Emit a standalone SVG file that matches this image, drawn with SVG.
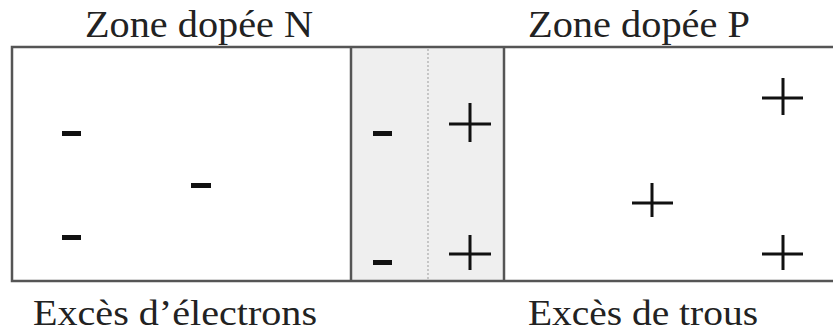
<svg xmlns="http://www.w3.org/2000/svg" width="833" height="333" viewBox="0 0 833 333">
<style>
.lbl{font-family:"Liberation Serif","Times New Roman",serif;font-size:38px;fill:#222}
.low{font-size:35px}
.edge{stroke:#555;stroke-width:2.5;fill:none}
.plus{stroke:#111;stroke-width:3;fill:none}
.minus{fill:#111}
</style>
<rect x="0" y="0" width="833" height="333" fill="#fff"/>
<g id="depletion">
<rect x="351" y="47" width="153" height="234" fill="#efefef"/>
<line x1="428" y1="49" x2="428" y2="280" stroke="#aaa" stroke-width="1.2" stroke-dasharray="2,2"/>
<rect class="minus" x="373" y="131" width="19" height="5"/>
<rect class="minus" x="373" y="260" width="19" height="5"/>
<path class="plus" d="M449 124H491M470 103V142"/>
<path class="plus" d="M449 254H491M470 235V270"/>
</g>
<g id="frame">
<path class="edge" d="M833 47H12V281H833"/>
<line class="edge" x1="351" y1="47" x2="351" y2="281"/>
<line class="edge" x1="504" y1="47" x2="504" y2="281"/>
</g>
<g id="zone-n">
<text class="lbl" x="85" y="37" textLength="228" lengthAdjust="spacingAndGlyphs">Zone dopée N</text>
<rect class="minus" x="62" y="131" width="19" height="5"/>
<rect class="minus" x="191" y="183" width="20" height="5"/>
<rect class="minus" x="62" y="235" width="19" height="5"/>
<text class="lbl low" x="33" y="325" textLength="284" lengthAdjust="spacingAndGlyphs">Excès d’électrons</text>
</g>
<g id="zone-p">
<text class="lbl" x="528" y="37" textLength="222" lengthAdjust="spacingAndGlyphs">Zone dopée P</text>
<path class="plus" d="M762 98H803M783 78V115"/>
<path class="plus" d="M632 203H673M652 183V217"/>
<path class="plus" d="M762 254H803M783 235V270"/>
<text class="lbl low" x="528" y="325" textLength="230" lengthAdjust="spacingAndGlyphs">Excès de trous</text>
</g>
</svg>
